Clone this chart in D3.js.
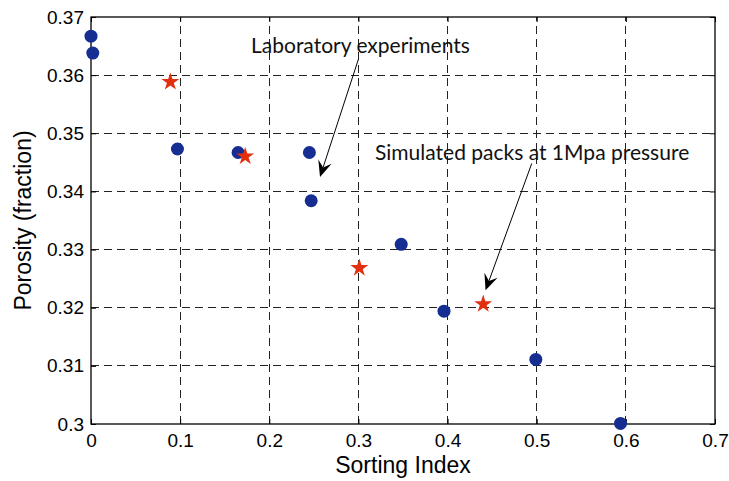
<!DOCTYPE html>
<html>
<head>
	<title>Porosity vs sorting index</title>
	<script src="https://d3js.org/d3.v7.min.js"></script>
</head>

<style type="text/css">
    body { margin: 0; background: white; }
    svg { display: block; }
    .tick text { font-family: "Liberation Sans", Arial, sans-serif; font-size: 19px; fill: #000; }
</style>

<body>
    <div id='chart'></div>

    <script type="text/javascript">
        // laboratory experiments (blue circles)
        var labSorting  = [0.000, 0.002, 0.097, 0.165, 0.245, 0.247, 0.348, 0.396, 0.499, 0.594];
        var labPorosity = [0.3667, 0.3638, 0.3473, 0.3467, 0.3467, 0.3384, 0.3309, 0.3194, 0.3111, 0.3001];

        // simulated packs at 1Mpa (red stars)
        var simSorting  = [0.089, 0.173, 0.301, 0.440];
        var simPorosity = [0.3590, 0.3462, 0.3270, 0.3208];

        var xTicks = [0, 0.1, 0.2, 0.3, 0.4, 0.5, 0.6, 0.7];
        var yTicks = [0.30, 0.31, 0.32, 0.33, 0.34, 0.35, 0.36, 0.37];

        // annotations: text + arrow (start -> tip), in data units
        var notes = [
            {text: 'Laboratory experiments', tx: 0.1795, ty: 0.3638, x1: 0.2999, y1: 0.3627, x2: 0.2569, y2: 0.3425},
            {text: 'Simulated packs at 1Mpa pressure', tx: 0.3186, ty: 0.3454, x1: 0.4944, y1: 0.3448, x2: 0.4426, y2: 0.3230}
        ];

        var width = 729;
        var height = 481;
        var pLeft = 91, pRight = 715, pTop = 17, pBottom = 424;

        var x = d3.scaleLinear().domain([0, 0.7]).range([pLeft, pRight]);
        var y = d3.scaleLinear().domain([0.30, 0.37]).range([pBottom, pTop]);

        var svg = d3.select('#chart').append('svg')
            .attr('width', width)
            .attr('height', height)
            .style('background', 'white');

        //grid
        var grid = svg.append('g')
            .attr('stroke', '#222')
            .attr('stroke-width', 1)
            .attr('stroke-dasharray', '8,5')
            .attr('shape-rendering', 'crispEdges');
        grid.selectAll('.gx').data(xTicks.slice(1, -1)).enter().append('line')
            .attr('x1', function(d){ return x(d); }).attr('x2', function(d){ return x(d); })
            .attr('y1', pBottom).attr('y2', pTop);
        grid.selectAll('.gy').data(yTicks.slice(1, -1)).enter().append('line')
            .attr('y1', function(d){ return y(d); }).attr('y2', function(d){ return y(d); })
            .attr('x1', pLeft).attr('x2', pRight);

        //axes
        var fmt = function(d){ return String(+d.toFixed(2)); };
        svg.append('g')
            .attr('transform', 'translate(0,' + pBottom + ')')
            .call(d3.axisBottom(x).tickValues(xTicks).tickFormat(fmt).tickSizeInner(-5).tickSizeOuter(0).tickPadding(10));
        svg.append('g')
            .attr('transform', 'translate(' + pLeft + ',0)')
            .call(d3.axisLeft(y).tickValues(yTicks).tickFormat(fmt).tickSizeInner(-5).tickSizeOuter(0).tickPadding(7));
        svg.append('g')
            .attr('transform', 'translate(0,' + pTop + ')')
            .call(d3.axisTop(x).tickValues(xTicks).tickFormat('').tickSizeInner(-5).tickSizeOuter(0));
        svg.append('g')
            .attr('transform', 'translate(' + pRight + ',0)')
            .call(d3.axisRight(y).tickValues(yTicks).tickFormat('').tickSizeInner(-5).tickSizeOuter(0));
        svg.selectAll('.domain').remove();
        svg.selectAll('.tick line').attr('stroke', '#000');

        svg.append('rect')
            .attr('x', pLeft).attr('y', pTop)
            .attr('width', pRight - pLeft).attr('height', pBottom - pTop)
            .attr('fill', 'none').attr('stroke', '#000').attr('stroke-width', 1.3);

        //axis labels
        svg.append('text')
            .attr('x', (pLeft + pRight) / 2).attr('y', 473)
            .attr('text-anchor', 'middle')
            .style('font-family', '"Liberation Sans", Arial, sans-serif')
            .style('font-size', '23px')
            .text('Sorting Index');
        svg.append('text')
            .attr('transform', 'translate(31,' + (pTop + pBottom) / 2 + ') rotate(-90)')
            .attr('text-anchor', 'middle')
            .style('font-family', '"Liberation Sans", Arial, sans-serif')
            .style('font-size', '23px')
            .text('Porosity (fraction)');

        //points
        svg.selectAll('.lab').data(d3.range(labSorting.length)).enter().append('circle')
            .attr('cx', function(i){ return x(labSorting[i]); })
            .attr('cy', function(i){ return y(labPorosity[i]); })
            .attr('r', 6.5)
            .style('fill', '#162d91');

        var star = d3.symbol().type(d3.symbolStar).size(100);
        svg.selectAll('.sim').data(d3.range(simSorting.length)).enter().append('path')
            .attr('d', star)
            .attr('transform', function(i){ return 'translate(' + x(simSorting[i]) + ',' + (y(simPorosity[i]) + 1) + ')'; })
            .style('fill', '#e2300f');

        //annotations
        notes.forEach(function(n){
            svg.append('text')
                .attr('x', x(n.tx)).attr('y', y(n.ty))
                .style('font-family', 'Lato, "Open Sans", sans-serif')
                .style('font-size', '21px')
                .style('fill', '#111')
                .text(n.text);

            var ax = x(n.x1), ay = y(n.y1), bx = x(n.x2), by = y(n.y2);
            var ang = Math.atan2(by - ay, bx - ax);
            var L = 16, W = 7, back = 10;
            var ux = Math.cos(ang), uy = Math.sin(ang);
            var px = -uy, py = ux;
            svg.append('line')
                .attr('x1', ax).attr('y1', ay)
                .attr('x2', bx - ux * back).attr('y2', by - uy * back)
                .attr('stroke', '#000').attr('stroke-width', 1);
            var pts = [
                [bx, by],
                [bx - ux * L + px * W, by - uy * L + py * W],
                [bx - ux * back, by - uy * back],
                [bx - ux * L - px * W, by - uy * L - py * W]
            ];
            svg.append('path')
                .attr('d', 'M' + pts.map(function(p){ return p.join(','); }).join('L') + 'Z')
                .attr('fill', '#000');
        });
    </script>
</body>
</html>
